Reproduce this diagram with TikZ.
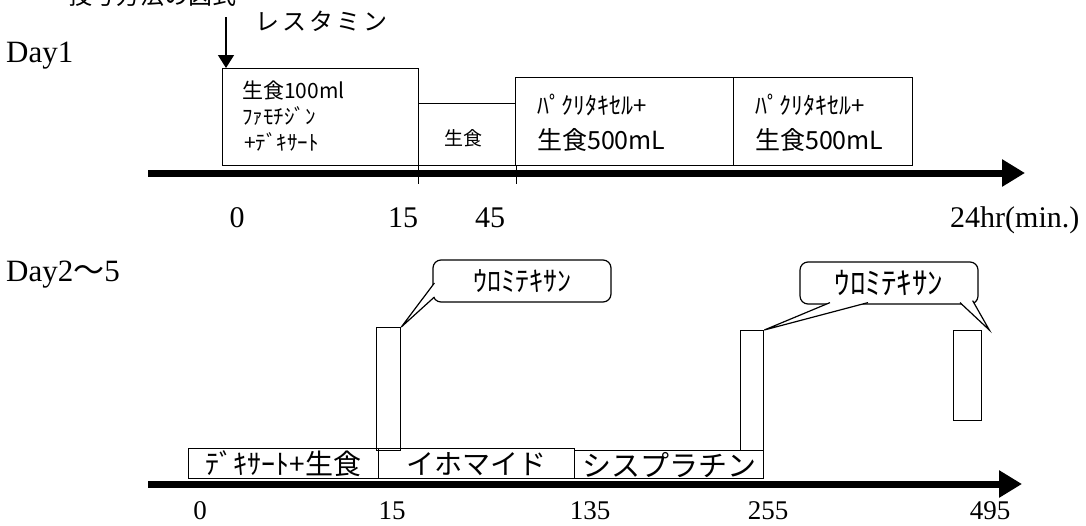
\documentclass[tikz,border=0pt]{standalone}
\usepackage{fontspec}
\setmainfont{Liberation Serif}
\newfontfamily\jp{Noto Sans CJK JP}
\usetikzlibrary{arrows.meta,positioning}

\begin{document}
\begin{tikzpicture}[x=1pt,y=-1pt,
  box/.style={draw,line width=1.3pt,inner sep=0pt,anchor=north west},
  axis/.style={line width=7pt,-{Triangle[length=23pt,width=26pt]}},
  lbl/.style={font=\fontsize{30}{30}\selectfont,inner sep=0pt,anchor=base},
  jps/.style={font=\jp\fontsize{#1}{#1}\selectfont,inner sep=0pt},
  call/.style={draw,line width=1.2pt,rounded corners=8pt,fill=white,
    minimum width=178pt,minimum height=42pt,inner sep=0pt}]
\useasboundingbox (0,0) rectangle (1086,525);

% Day1
\node[jps=24,anchor=base west] (title) at (68,4) {投与方法の図式};
\node[jps=24,anchor=base west] (resta) at (255,30) {レ\hspace{3pt}ス\hspace{3pt}タ\hspace{3pt}ミ\hspace{3pt}ン};
\node[font=\fontsize{31}{31}\selectfont,anchor=base west,inner sep=0pt] (day1) at (6,62) {Day1};

\node[box,minimum width=196pt,minimum height=97pt] (b1) at (222,68) {};
\node[box,minimum width=97pt,minimum height=62pt] (b2) at (418,103) {};
\node[box,minimum width=218pt,minimum height=88pt] (b3) at (515,77) {};
\node[box,minimum width=179pt,minimum height=88pt] (b4) at (733,77) {};

\node[jps=21,anchor=base west] at ([shift={(20,30)}]b1.north west) {生食100ml};
\node[jps=21,anchor=base west] at ([shift={(20,56)}]b1.north west) {ﾌｧﾓﾁｼﾞﾝ};
\node[jps=21,anchor=base west] at ([shift={(22,82)}]b1.north west) {+ﾃﾞｷｻｰﾄ};
\node[jps=19] at ([shift={(-4,4)}]b2.center) {生食};
\foreach \b in {b3,b4}{
  \node[jps=24,anchor=base west] at ([shift={(22,37)}]\b.north west) {ﾊﾟｸﾘﾀｷｾﾙ+};
  \node[jps=25,anchor=base west] at ([shift={(22,72)}]\b.north west) {生食500mL};
}

\coordinate (arr) at (226,17);
\draw[line width=1.5pt,-{Triangle[length=13pt,width=16pt]}] (arr) -- (arr |- b1.north);

\coordinate (ax1) at (148,173);
\coordinate (ax1e) at (1025,173);
\draw[axis] (ax1) -- (ax1e);
\draw[line width=1pt] (b2.south west) -- ++(0,18);
\draw[line width=1pt] (b2.south east) -- ++(0,18);

\node[lbl] at (237,227) {0};
\node[lbl] at (403,227) {15};
\node[lbl] at (490,227) {45};
\node[lbl,anchor=base west] at (950,227) {24hr(min.)};

% Day2-5
\node[font=\fontsize{31}{31}\selectfont,anchor=base west,inner sep=0pt] (day2) at (6,281) {Day2{\jp 〜}5};

\node[box,minimum width=190pt,minimum height=30pt] (d1) at (188,448) {};
\node[box,minimum width=196pt,minimum height=30pt] (d2) at (378,448) {};
\node[box,minimum width=189pt,minimum height=28pt] (d3) at (574,450) {};
\node[jps=28] at (d1.center) {ﾃﾞｷｻｰﾄ+生食};
\node[jps=28] at (d2.center) {イホマイド};
\node[jps=29] at (d3.center) {シスプラチン};

\node[box,minimum width=24pt,minimum height=123pt] (s1) at (376,327) {};
\node[box,minimum width=23pt,minimum height=120pt] (s2) at (740,330) {};
\node[box,minimum width=28pt,minimum height=90pt] (s3) at (953,330) {};

\node[call,font=\jp\fontsize{28}{28}\selectfont] (c1) at (522,281) {ｳﾛﾐﾃｷｻﾝ};
\node[call,font=\jp\fontsize{31}{31}\selectfont] (c2) at (889,283) {ｳﾛﾐﾃｷｻﾝ};
\draw[line width=1.2pt,fill=white] ([shift={(2pt,-2pt)}]c1.west) -- (s1.north east) -- ([shift={(2pt,-16pt)}]c1.west);
\draw[line width=1.2pt,fill=white] ([shift={(-59pt,2pt)}]c2.south) -- (s2.north east) -- ([shift={(-21pt,2pt)}]c2.south);
\draw[line width=1.2pt,fill=white] ([shift={(71pt,2pt)}]c2.south) -- ([xshift=7pt]s3.north east) -- ([shift={(-6pt,4pt)}]c2.south east);

\coordinate (ax2) at (148,484);
\coordinate (ax2e) at (1022,484);
\draw[axis] (ax2) -- (ax2e);

\node[lbl,font=\fontsize{27}{27}\selectfont] at (200,519) {0};
\node[lbl,font=\fontsize{27}{27}\selectfont] at (392,519) {15};
\node[lbl,font=\fontsize{27}{27}\selectfont] at (590,519) {135};
\node[lbl,font=\fontsize{27}{27}\selectfont] at (768,519) {255};
\node[lbl,font=\fontsize{27}{27}\selectfont] at (990,519) {495};
\end{tikzpicture}
\end{document}
